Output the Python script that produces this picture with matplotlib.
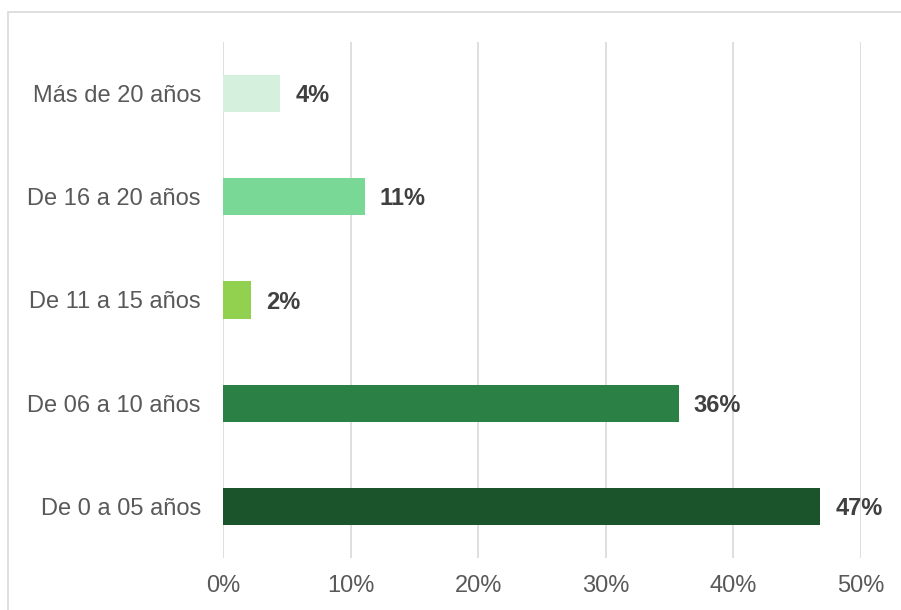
import matplotlib
matplotlib.use("Agg")
import matplotlib.pyplot as plt
from matplotlib.patches import Rectangle
from matplotlib.ticker import PercentFormatter

plt.rcParams['font.family'] = ['Liberation Sans', 'DejaVu Sans']

# data (bottom to top)
categories = ['De 0 a 05 años', 'De 06 a 10 años', 'De 11 a 15 años',
              'De 16 a 20 años', 'Más de 20 años']
values = [46.8, 35.7, 2.2, 11.1, 4.5]
labels = ['47%', '36%', '2%', '11%', '4%']
colors = ['#1B532B', '#2A8045', '#92D050', '#79D895', '#D5F0DC']

fig = plt.figure(figsize=(9.01, 6.10), dpi=100)
ax = fig.add_axes([223 / 901, 1 - 558 / 610, (861 - 223) / 901, (558 - 42) / 610])

# chart border (cut off on right and bottom like the original)
fig.patches.append(Rectangle((8 / 901, -0.05), 1.05, 1 - 12 / 610 + 0.05,
                             transform=fig.transFigure, fill=False,
                             edgecolor='#D9D9D9', linewidth=1.2))

y = range(len(categories))
ax.barh(y, values, height=0.36, color=colors, zorder=3)
for i, v in enumerate(values):
    ax.text(v + 1.2, i - 0.02, labels[i], va='center', ha='left', fontsize=17,
            fontweight='bold', color='#404040')

ax.set_xlim(0, 50)
ax.set_ylim(-0.5, len(categories) - 0.5)
ax.set_xticks(range(0, 51, 10))
ax.xaxis.set_major_formatter(PercentFormatter(decimals=0))
ax.set_yticks(list(y))
ax.set_yticklabels(categories)
ax.tick_params(axis='both', length=0, labelsize=17, labelcolor='#595959')
ax.tick_params(axis='x', pad=12)
ax.tick_params(axis='y', pad=16)
ax.grid(axis='x', color='#D9D9D9', linewidth=1.2, zorder=0)
for s in ax.spines.values():
    s.set_visible(False)

fig.savefig('out.png', dpi=100)
